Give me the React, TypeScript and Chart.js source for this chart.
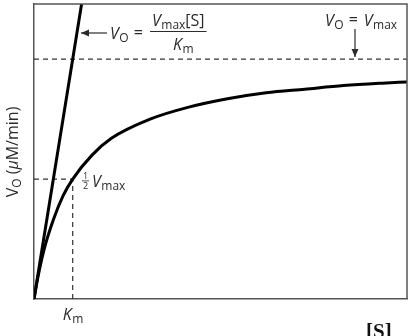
import React, { useEffect, useRef } from "react";
import { Chart, registerables } from "chart.js";

Chart.register(...registerables);

// Substrate concentration [S], in units of Km
const substrate = [0, 0.1, 0.25, 0.5, 0.75, 1, 1.5, 2, 3, 4, 5, 6, 7, 8, 9, 9.64];
// Initial velocity V0, in units of Vmax
const velocity = [0, 0.09, 0.2, 0.33, 0.43, 0.5, 0.6, 0.67, 0.75, 0.8, 0.835, 0.86, 0.875, 0.89, 0.9, 0.905];
// Initial-slope line V0 = Vmax[S]/Km
const slopeS = [0, 1.23];
const slopeV = [0, 1.23];
// Reference levels
const vmaxLevel = 1;
const halfVmax = 0.5;
const kmValue = 1;
const sMax = 9.64;
const vMaxAxis = 1.23;

const INK = "#2b2b2b";
const FRAME = "#555555";
const SANS = "'Open Sans', 'Noto Sans', sans-serif";

function pts(xs: number[], ys: number[]) {
  return xs.map((x, i) => ({ x, y: ys[i] }));
}

// draws main text followed by subscript, returns end x
function vSub(ctx: CanvasRenderingContext2D, main: string, sub: string, x: number, y: number, size: number, italic = true) {
  ctx.font = `${italic ? "italic " : ""}${size}px ${SANS}`;
  ctx.fillText(main, x, y);
  let w = ctx.measureText(main).width;
  ctx.font = `${Math.round(size * 0.72)}px ${SANS}`;
  ctx.fillText(sub, x + w + 0.5, y + size * 0.2);
  w += ctx.measureText(sub).width + 0.5;
  return x + w;
}

function arrow(ctx: CanvasRenderingContext2D, x1: number, y1: number, x2: number, y2: number) {
  ctx.beginPath();
  ctx.moveTo(x1, y1);
  ctx.lineTo(x2, y2);
  ctx.lineWidth = 1.2;
  ctx.strokeStyle = INK;
  ctx.stroke();
  const a = Math.atan2(y2 - y1, x2 - x1);
  const L = 8, W = 3.5;
  ctx.beginPath();
  ctx.moveTo(x2, y2);
  ctx.lineTo(x2 - L * Math.cos(a) + W * Math.sin(a), y2 - L * Math.sin(a) - W * Math.cos(a));
  ctx.lineTo(x2 - L * Math.cos(a) - W * Math.sin(a), y2 - L * Math.sin(a) + W * Math.cos(a));
  ctx.closePath();
  ctx.fillStyle = INK;
  ctx.fill();
}

const annotations = {
  id: "annotations",
  afterDraw(chart: any) {
    const ctx: CanvasRenderingContext2D = chart.ctx;
    const a = chart.chartArea;
    ctx.save();
    // top and right frame
    ctx.strokeStyle = FRAME;
    ctx.lineWidth = 1.5;
    ctx.beginPath();
    ctx.moveTo(a.left, a.top);
    ctx.lineTo(a.right, a.top);
    ctx.lineTo(a.right, a.bottom);
    ctx.stroke();

    ctx.fillStyle = INK;
    ctx.textBaseline = "alphabetic";
    ctx.textAlign = "left";

    // arrow + formula V0 = Vmax[S]/Km
    arrow(ctx, 107, 33, 81, 33);
    let x = vSub(ctx, "V", "O", 110, 39, 16);
    ctx.font = `16px ${SANS}`;
    ctx.fillText("=", x + 5, 38);
    // numerator
    let nx = vSub(ctx, "V", "max", 152, 26, 16);
    ctx.font = `16px ${SANS}`;
    ctx.fillText("[S]", nx, 26);
    nx += ctx.measureText("[S]").width;
    ctx.fillRect(150, 31, nx - 150 + 2, 1);
    // denominator
    vSub(ctx, "K", "m", 173, 50, 16);

    // V0 = Vmax at top right
    let tx = vSub(ctx, "V", "O", 325, 26, 16);
    ctx.font = `16px ${SANS}`;
    ctx.fillText("=", tx + 5, 25);
    tx += 5 + ctx.measureText("=").width + 6;
    vSub(ctx, "V", "max", tx, 26, 16);
    arrow(ctx, 355, 29, 355, 57);

    // 1/2 Vmax
    ctx.font = `9px ${SANS}`;
    ctx.textAlign = "center";
    ctx.fillText("1", 85.5, 179);
    ctx.fillText("2", 85.5, 189);
    ctx.fillRect(82, 180.5, 7, 0.8);
    ctx.textAlign = "left";
    vSub(ctx, "V", "max", 92, 187, 16);

    // Km under x axis
    const kmX = chart.scales.x.getPixelForValue(kmValue);
    vSub(ctx, "K", "m", kmX - 10, 320, 16);

    // [S]
    ctx.font = `bold 21px 'Liberation Serif', serif`;
    ctx.fillStyle = "#111";
    ctx.fillText("[S]", 366, 338);

    // y axis title
    ctx.save();
    ctx.translate(18, 152);
    ctx.rotate(-Math.PI / 2);
    ctx.fillStyle = INK;
    const parts: [string, string, number][] = [
      ["V", `16px ${SANS}`, 0],
      ["O", `12px ${SANS}`, 3],
      [" (", `16px ${SANS}`, 0],
      ["μ", `italic 16px ${SANS}`, 0],
      ["M/min)", `16px ${SANS}`, 0],
    ];
    let total = 0;
    for (const [t, f] of parts) { ctx.font = f; total += ctx.measureText(t).width; }
    let px = -total / 2;
    for (const [t, f, dy] of parts) {
      ctx.font = f;
      ctx.fillText(t, px, dy);
      px += ctx.measureText(t).width;
    }
    ctx.restore();

    ctx.restore();
  },
};

export default function App() {
  const ref = useRef<HTMLCanvasElement>(null);
  useEffect(() => {
    const dashed = { borderColor: "#333", borderWidth: 1.2, borderDash: [5, 4], pointRadius: 0, fill: false, tension: 0 };
    const chart = new Chart(ref.current!, {
      type: "line",
      data: {
        datasets: [
          { data: pts(substrate, velocity), borderColor: "#000", borderWidth: 3, pointRadius: 0, cubicInterpolationMode: "monotone", fill: false },
          { data: pts(slopeS, slopeV), borderColor: "#000", borderWidth: 3, pointRadius: 0, fill: false },
          { data: [{ x: 0, y: vmaxLevel }, { x: sMax, y: vmaxLevel }], ...dashed },
          { data: [{ x: 0, y: halfVmax }, { x: kmValue, y: halfVmax }], ...dashed },
          { data: [{ x: kmValue, y: 0 }, { x: kmValue, y: halfVmax }], ...dashed },
        ] as any,
      },
      options: {
        animation: false,
        responsive: false,
        layout: { padding: { left: 34, right: 6, top: 4, bottom: 37 } },
        plugins: { legend: { display: false }, tooltip: { enabled: false } },
        scales: {
          x: {
            type: "linear", min: 0, max: sMax,
            ticks: { display: false },
            grid: { display: false, drawTicks: false },
            border: { display: true, color: FRAME, width: 1.5 },
          },
          y: {
            type: "linear", min: 0, max: vMaxAxis,
            ticks: { display: false },
            grid: { display: false, drawTicks: false },
            border: { display: true, color: FRAME, width: 1.5 },
          },
        },
      },
      plugins: [annotations],
    });
    return () => chart.destroy();
  }, []);
  return (
    <div style={{ position: "absolute", left: 0, top: 0, width: 413, height: 336, background: "#fff" }}>
      <canvas ref={ref} width={413} height={336} />
    </div>
  );
}
